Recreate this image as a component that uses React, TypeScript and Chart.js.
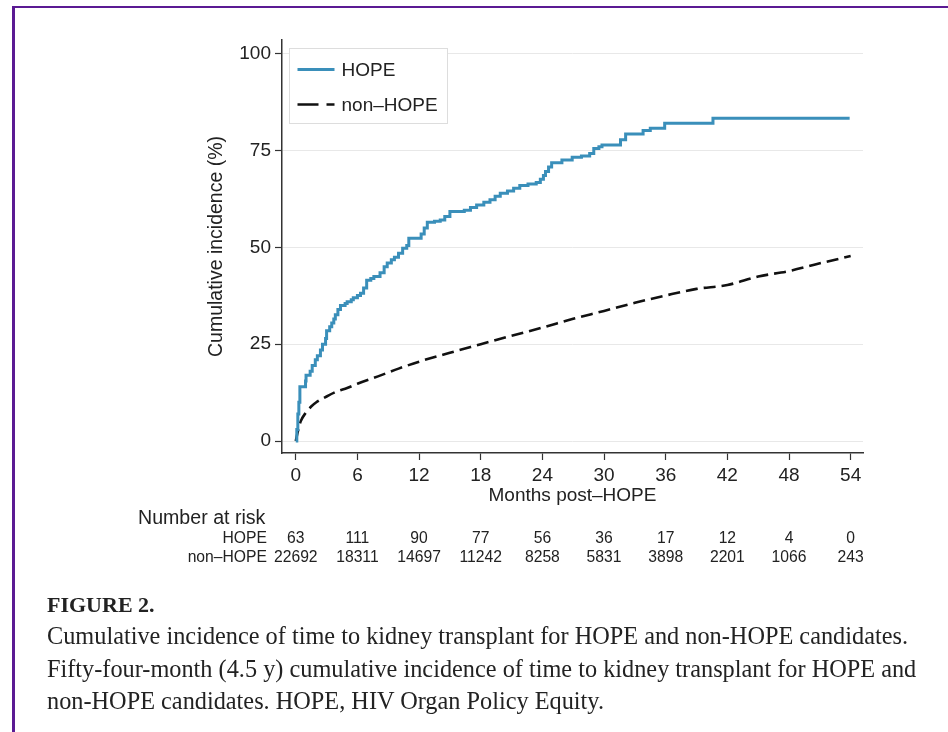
import { useEffect, useRef } from "react";
import { Chart, registerables } from "chart.js";

Chart.register(...registerables);

// Axis ticks
const monthTicks = [0, 6, 12, 18, 24, 30, 36, 42, 48, 54];
const incidenceTicks = [0, 25, 50, 75, 100];

// HOPE candidates: step-function cumulative incidence (month of jump, % after jump)
const hopeMonths = [
  0, 0.1, 0.2, 0.3, 0.4, 0.95, 1.0, 1.4, 1.6, 1.9, 2.1, 2.4, 2.6, 2.9, 3.0, 3.3, 3.5, 3.7,
  3.85, 4.1, 4.35, 4.8, 5.0, 5.4, 5.6, 6.0, 6.3, 6.6, 6.9, 7.3, 7.6, 8.2, 8.6, 8.9, 9.3,
  9.6, 10.0, 10.4, 10.8, 11.0, 12.2, 12.5, 12.8, 13.5, 14.06, 14.5, 15.0, 16.4, 17.0, 17.6,
  18.3, 18.9, 19.4, 19.9, 20.6, 21.2, 21.8, 22.6, 23.4, 23.8, 24.1, 24.3, 24.6, 24.9, 25.9,
  26.9, 27.8, 28.6, 29.0, 29.5, 29.8, 31.6, 32.1, 33.8, 34.5, 35.9, 40.6, 53.9,
];
const hopeIncidence = [
  0, 3, 7, 10, 14, 15.5, 17, 18, 19.5, 21, 22, 23.5, 25, 26.5, 28.5, 29.5, 30.5, 31.5,
  32.6, 34, 35, 35.5, 36, 36.5, 37, 37.6, 38.2, 39.5, 41.5, 42, 42.5, 43.5, 45, 46, 46.8,
  47.5, 48.5, 49.8, 50.5, 52.4, 53.5, 55, 56.5, 56.8, 57.1, 58, 59.3, 59.6, 60.3, 61.0,
  61.7, 62.3, 63.2, 64.0, 64.6, 65.3, 66, 66.4, 66.8, 67.6, 68.6, 69.6, 70.8, 71.9, 72.6,
  73.3, 73.6, 74.3, 75.6, 76.0, 76.5, 77.8, 79.3, 80.2, 80.8, 82.1, 83.4, 83.4,
];

// non-HOPE candidates: cumulative incidence (%)
const nonHopeMonths = [
  0, 0.25, 0.5, 1, 1.5, 2, 3, 4, 5, 6, 8, 10, 12, 15, 18, 21, 24, 27, 30, 33, 36, 39, 42,
  45, 48, 51, 54,
];
const nonHopeIncidence = [
  0, 3.0, 5.2, 7.4, 8.9, 10.0, 11.5, 12.8, 13.7, 14.8, 16.7, 18.7, 20.5, 22.8, 25.0, 27.2,
  29.3, 31.6, 33.6, 35.7, 37.6, 39.3, 40.3, 42.5, 43.9, 45.9, 47.8,
];

// Number at risk at each month tick
const hopeAtRisk = [63, 111, 90, 77, 56, 36, 17, 12, 4, 0];
const nonHopeAtRisk = [22692, 18311, 14697, 11242, 8258, 5831, 3898, 2201, 1066, 243];

const seriesLabels = ["HOPE", "non\u2013HOPE"];

const BLUE = "#3a8fba";
const INK = "#222222";
const AXIS = "#333333";
const SANS = '"Liberation Sans", Arial, Helvetica, sans-serif';
const SERIF = '"Liberation Serif", "Times New Roman", serif';

const legendPlugin = {
  id: "boxLegend",
  afterDatasetsDraw(chart: any) {
    const { ctx, chartArea } = chart;
    const x0 = chartArea.left + 7.5;
    const y0 = chartArea.top + 8.5;
    ctx.save();
    ctx.fillStyle = "#ffffff";
    ctx.fillRect(x0, y0, 158, 75);
    ctx.strokeStyle = "#dddddd";
    ctx.lineWidth = 1;
    ctx.strokeRect(x0, y0, 158, 75);

    ctx.lineWidth = 3;
    ctx.strokeStyle = BLUE;
    ctx.beginPath();
    ctx.moveTo(x0 + 8, y0 + 21);
    ctx.lineTo(x0 + 45, y0 + 21);
    ctx.stroke();

    ctx.strokeStyle = "#111111";
    ctx.lineWidth = 2.6;
    ctx.setLineDash([21, 8]);
    ctx.beginPath();
    ctx.moveTo(x0 + 8, y0 + 56);
    ctx.lineTo(x0 + 45, y0 + 56);
    ctx.stroke();
    ctx.setLineDash([]);

    ctx.fillStyle = INK;
    ctx.font = `19px ${SANS}`;
    ctx.textBaseline = "middle";
    ctx.textAlign = "left";
    ctx.fillText(seriesLabels[0], x0 + 52, y0 + 22);
    ctx.fillText(seriesLabels[1], x0 + 52, y0 + 57);
    ctx.restore();
  },
};

const atRiskPlugin = {
  id: "atRiskTable",
  afterDraw(chart: any) {
    const { ctx, chartArea, scales } = chart;
    const xs = scales.x;
    ctx.save();
    ctx.fillStyle = INK;
    ctx.textBaseline = "middle";
    ctx.font = `19.6px ${SANS}`;
    ctx.textAlign = "left";
    ctx.fillText("Number at risk", chartArea.left - 144, chartArea.bottom + 66);

    ctx.font = `15.7px ${SANS}`;
    ctx.textAlign = "right";
    ctx.fillText(seriesLabels[0], chartArea.left - 15, chartArea.bottom + 86);
    ctx.fillText(seriesLabels[1], chartArea.left - 15, chartArea.bottom + 105);
    ctx.textAlign = "center";
    monthTicks.forEach((m, i) => {
      const x = xs.getPixelForValue(m);
      ctx.fillText(String(hopeAtRisk[i]), x, chartArea.bottom + 86);
      ctx.fillText(String(nonHopeAtRisk[i]), x, chartArea.bottom + 105);
    });
    ctx.restore();
  },
};

export default function App() {
  const canvasRef = useRef<HTMLCanvasElement | null>(null);

  useEffect(() => {
    const canvas = canvasRef.current;
    if (!canvas) return;
    const chart = new Chart(canvas, {
      type: "line",
      data: {
        datasets: [
          {
            label: seriesLabels[0],
            data: hopeMonths.map((m, i) => ({ x: m, y: hopeIncidence[i] })),
            borderColor: BLUE,
            borderWidth: 3,
            stepped: true,
            pointRadius: 0,
            fill: false,
          },
          {
            label: seriesLabels[1],
            data: nonHopeMonths.map((m, i) => ({ x: m, y: nonHopeIncidence[i] })),
            borderColor: "#111111",
            borderWidth: 2.6,
            borderDash: [12, 6],
            cubicInterpolationMode: "monotone",
            pointRadius: 0,
            fill: false,
          },
        ],
      },
      options: {
        responsive: false,
        animation: false,
        devicePixelRatio: 1,
        layout: { padding: { left: 192, right: 85, top: 40, bottom: 219 } },
        plugins: { legend: { display: false }, tooltip: { enabled: false } },
        scales: {
          x: {
            type: "linear",
            min: -1.34,
            max: 55.2,
            afterBuildTicks: (s: any) => {
              s.ticks = monthTicks.map((v) => ({ value: v }));
            },
            afterFit: (s: any) => {
              s.height = 60;
            },
            grid: {
              drawOnChartArea: false,
              drawTicks: true,
              tickLength: 7,
              tickColor: AXIS,
              tickWidth: 1.2,
            },
            border: { color: AXIS, width: 1.5 },
            ticks: {
              color: INK,
              font: { family: SANS, size: 19 },
              padding: 4,
              maxRotation: 0,
              autoSkip: false,
            },
            title: {
              display: true,
              text: "Months post\u2013HOPE",
              color: INK,
              font: { family: SANS, size: 19, lineHeight: 1.2 },
              padding: { top: 0, bottom: 6 },
            },
          },
          y: {
            type: "linear",
            min: -3.1,
            max: 103.6,
            afterBuildTicks: (s: any) => {
              s.ticks = incidenceTicks.map((v) => ({ value: v }));
            },
            afterFit: (s: any) => {
              s.width = 90;
            },
            grid: {
              color: "#e8e8e8",
              lineWidth: 1,
              tickColor: AXIS,
              tickLength: 7,
              tickWidth: 1.2,
            },
            border: { color: AXIS, width: 1.5 },
            ticks: {
              color: INK,
              font: { family: SANS, size: 19 },
              padding: 4,
            },
            title: {
              display: true,
              text: "Cumulative incidence (%)",
              color: INK,
              font: { family: SANS, size: 19.5, lineHeight: 1.2 },
              padding: { top: 13, bottom: 0 },
            },
          },
        },
      },
      plugins: [legendPlugin, atRiskPlugin],
    } as any);
    return () => chart.destroy();
  }, []);

  const captionLine: React.CSSProperties = {
    position: "absolute",
    left: 47,
    whiteSpace: "nowrap",
    fontFamily: SERIF,
    fontSize: 24.3,
    lineHeight: "32px",
    color: INK,
  };

  return (
    <div style={{ position: "absolute", left: 0, top: 0, width: 948, height: 732, background: "#fff", overflow: "hidden" }}>
      <canvas ref={canvasRef} width={948} height={732} style={{ position: "absolute", left: 0, top: 0 }} />
      <div
        style={{
          position: "absolute",
          left: 12,
          top: 6,
          width: 940,
          height: 740,
          borderTop: "2px solid #5b1a93",
          borderLeft: "3px solid #5b1a93",
          boxSizing: "border-box",
          pointerEvents: "none",
        }}
      />
      <div style={{ ...captionLine, top: 589, fontWeight: "bold", fontSize: 22 }}>FIGURE 2.</div>
      <div style={{ ...captionLine, top: 620 }}>
        Cumulative incidence of time to kidney transplant for HOPE and non-HOPE candidates.
      </div>
      <div style={{ ...captionLine, top: 653 }}>
        Fifty-four-month (4.5 y) cumulative incidence of time to kidney transplant for HOPE and
      </div>
      <div style={{ ...captionLine, top: 685 }}>
        non-HOPE candidates. HOPE, HIV Organ Policy Equity.
      </div>
    </div>
  );
}
